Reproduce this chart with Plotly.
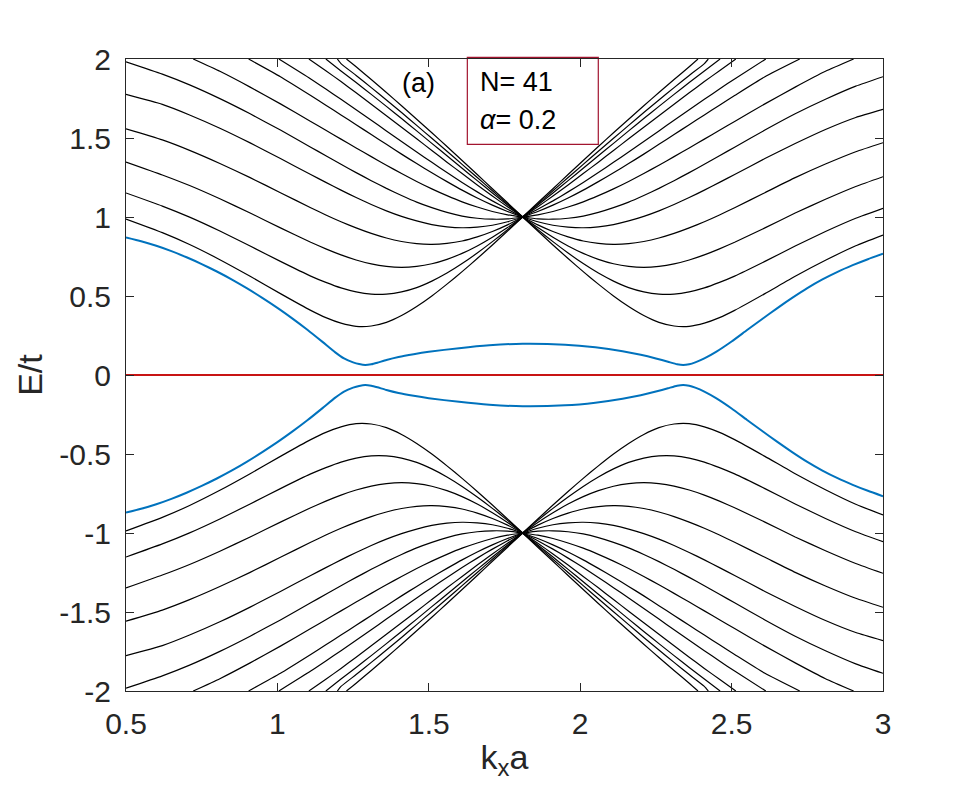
import plotly.graph_objects as go

# ---------------- data ----------------
# sampling positions (k_x a) left and right of the band-collapse point 1.81
X_LEFT = [1.81, 1.76, 1.71, 1.66, 1.61, 1.56, 1.51, 1.46, 1.41, 1.36, 1.31,
          1.26, 1.21, 1.16, 1.11, 1.01, 0.91, 0.81, 0.71, 0.62, 0.50]
X_RIGHT = [1.81, 1.86, 1.91, 1.96, 2.01, 2.06, 2.11, 2.16, 2.21, 2.26, 2.31,
           2.36, 2.41, 2.46, 2.51, 2.61, 2.71, 2.81, 2.91, 3.00]

# upper half, bands with a minimum (left side)
UL_A = [1.000, 0.911, 0.823, 0.737, 0.654, 0.575, 0.500, 0.433, 0.376, 0.333, 0.310, 0.308, 0.328, 0.363, 0.409, 0.515, 0.625, 0.730, 0.826, 0.901, 0.987]
UL_B = [1.000, 0.920, 0.844, 0.772, 0.705, 0.645, 0.594, 0.553, 0.526, 0.512, 0.512, 0.526, 0.551, 0.586, 0.626, 0.719, 0.816, 0.911, 0.999, 1.069, 1.152]
UL_C = [1.000, 0.933, 0.872, 0.817, 0.770, 0.732, 0.704, 0.687, 0.681, 0.687, 0.703, 0.728, 0.760, 0.798, 0.840, 0.931, 1.025, 1.115, 1.199, 1.266, 1.348]
UL_D = [1.000, 0.950, 0.908, 0.874, 0.848, 0.833, 0.827, 0.831, 0.845, 0.867, 0.896, 0.931, 0.970, 1.013, 1.059, 1.154, 1.249, 1.339, 1.422, 1.488, 1.558]
UL_E = [1.000, 0.970, 0.948, 0.936, 0.932, 0.938, 0.952, 0.975, 1.004, 1.039, 1.079, 1.123, 1.170, 1.219, 1.269, 1.370, 1.469, 1.562, 1.646, 1.713, 1.776]
UL_F = [1.000, 0.988, 0.986, 0.992, 1.006, 1.029, 1.059, 1.094, 1.136, 1.181, 1.230, 1.281, 1.334, 1.388, 1.442, 1.550, 1.653, 1.749, 1.836, 1.904, 1.982]

# upper half, bands with a minimum (right side)
UR_A = [1.000, 0.911, 0.823, 0.737, 0.654, 0.575, 0.500, 0.433, 0.376, 0.333, 0.310, 0.308, 0.328, 0.363, 0.409, 0.515, 0.625, 0.726, 0.818, 0.886]
UR_B = [1.000, 0.920, 0.844, 0.772, 0.705, 0.645, 0.594, 0.553, 0.526, 0.512, 0.512, 0.526, 0.551, 0.586, 0.626, 0.719, 0.816, 0.908, 0.992, 1.055]
UR_C = [1.000, 0.933, 0.872, 0.817, 0.770, 0.732, 0.704, 0.687, 0.681, 0.687, 0.703, 0.728, 0.760, 0.798, 0.840, 0.931, 1.025, 1.112, 1.193, 1.255]
UR_D = [1.000, 0.950, 0.908, 0.874, 0.848, 0.833, 0.827, 0.831, 0.845, 0.867, 0.896, 0.931, 0.970, 1.013, 1.059, 1.154, 1.249, 1.335, 1.413, 1.470]
UR_E = [1.000, 0.970, 0.948, 0.936, 0.932, 0.938, 0.952, 0.975, 1.004, 1.039, 1.079, 1.123, 1.170, 1.219, 1.269, 1.370, 1.465, 1.554, 1.630, 1.681]
UR_F = [1.000, 0.988, 0.986, 0.992, 1.006, 1.029, 1.059, 1.094, 1.136, 1.181, 1.230, 1.281, 1.334, 1.388, 1.442, 1.550, 1.653, 1.745, 1.828, 1.888]

# lower half, bands with a maximum (left side)
LL_A = [-1.000, -0.911, -0.823, -0.737, -0.654, -0.575, -0.500, -0.433, -0.376, -0.333, -0.310, -0.308, -0.328, -0.363, -0.409, -0.515, -0.625, -0.730, -0.826, -0.901, -0.987]
LL_B = [-1.000, -0.920, -0.844, -0.772, -0.705, -0.645, -0.594, -0.553, -0.526, -0.512, -0.512, -0.526, -0.551, -0.586, -0.626, -0.719, -0.816, -0.911, -0.999, -1.069, -1.152]
LL_C = [-1.000, -0.933, -0.872, -0.817, -0.770, -0.732, -0.704, -0.687, -0.681, -0.687, -0.703, -0.728, -0.760, -0.798, -0.840, -0.931, -1.025, -1.115, -1.199, -1.266, -1.348]
LL_D = [-1.000, -0.950, -0.908, -0.874, -0.848, -0.833, -0.827, -0.831, -0.845, -0.867, -0.896, -0.931, -0.970, -1.013, -1.059, -1.154, -1.249, -1.339, -1.422, -1.488, -1.558]
LL_E = [-1.000, -0.970, -0.948, -0.936, -0.932, -0.938, -0.952, -0.975, -1.004, -1.039, -1.079, -1.123, -1.170, -1.219, -1.269, -1.370, -1.469, -1.562, -1.646, -1.713, -1.776]
LL_F = [-1.000, -0.988, -0.986, -0.992, -1.006, -1.029, -1.059, -1.094, -1.136, -1.181, -1.230, -1.281, -1.334, -1.388, -1.442, -1.550, -1.653, -1.749, -1.836, -1.904, -1.982]

# lower half, bands with a maximum (right side)
LR_A = [-1.000, -0.911, -0.823, -0.737, -0.654, -0.575, -0.500, -0.433, -0.376, -0.333, -0.310, -0.308, -0.328, -0.363, -0.409, -0.515, -0.625, -0.726, -0.818, -0.886]
LR_B = [-1.000, -0.920, -0.844, -0.772, -0.705, -0.645, -0.594, -0.553, -0.526, -0.512, -0.512, -0.526, -0.551, -0.586, -0.626, -0.719, -0.816, -0.908, -0.992, -1.055]
LR_C = [-1.000, -0.933, -0.872, -0.817, -0.770, -0.732, -0.704, -0.687, -0.681, -0.687, -0.703, -0.728, -0.760, -0.798, -0.840, -0.931, -1.025, -1.112, -1.193, -1.255]
LR_D = [-1.000, -0.950, -0.908, -0.874, -0.848, -0.833, -0.827, -0.831, -0.845, -0.867, -0.896, -0.931, -0.970, -1.013, -1.059, -1.154, -1.249, -1.335, -1.413, -1.470]
LR_E = [-1.000, -0.970, -0.948, -0.936, -0.932, -0.938, -0.952, -0.975, -1.004, -1.039, -1.079, -1.123, -1.170, -1.219, -1.269, -1.370, -1.465, -1.554, -1.630, -1.681]
LR_F = [-1.000, -0.988, -0.986, -0.992, -1.006, -1.029, -1.059, -1.094, -1.136, -1.181, -1.230, -1.281, -1.334, -1.388, -1.442, -1.550, -1.653, -1.745, -1.828, -1.888]

# steep bands leaving the frame (values on the same sampling grid, upper half)
ST_G = [1.000, 1.014, 1.035, 1.063, 1.096, 1.135, 1.178, 1.225, 1.275, 1.328, 1.382, 1.437, 1.493, 1.549, 1.605, 1.716, 1.822, 1.922, 2.000]
ST_E = [1.000, 1.035, 1.075, 1.120, 1.170, 1.224, 1.280, 1.338, 1.398, 1.460, 1.522, 1.584, 1.646, 1.708, 1.769, 1.888, 2.000]
ST_D = [1.000, 1.049, 1.102, 1.159, 1.219, 1.281, 1.346, 1.411, 1.478, 1.545, 1.612, 1.679, 1.745, 1.810, 1.874, 2.000]
ST_C = [1.000, 1.065, 1.133, 1.203, 1.275, 1.347, 1.421, 1.495, 1.568, 1.641, 1.714, 1.786, 1.857, 1.926, 2.000]
ST_B = [1.000, 1.076, 1.152, 1.230, 1.309, 1.388, 1.466, 1.545, 1.623, 1.700, 1.776, 1.851, 1.924, 2.000]
ST_A = [1.000, 1.083, 1.166, 1.250, 1.333, 1.416, 1.498, 1.580, 1.661, 1.740, 1.819, 1.896, 1.971, 2.000]
ST_X = [1.000, 1.090, 1.179, 1.269, 1.358, 1.446, 1.533, 1.619, 1.704, 1.788, 1.870, 1.951, 2.000]
# the same steep bands in the lower half
SN_G = [-1.000, -1.014, -1.035, -1.063, -1.096, -1.135, -1.178, -1.225, -1.275, -1.328, -1.382, -1.437, -1.493, -1.549, -1.605, -1.716, -1.822, -1.922, -2.000]
SN_E = [-1.000, -1.035, -1.075, -1.120, -1.170, -1.224, -1.280, -1.338, -1.398, -1.460, -1.522, -1.584, -1.646, -1.708, -1.769, -1.888, -2.000]
SN_D = [-1.000, -1.049, -1.102, -1.159, -1.219, -1.281, -1.346, -1.411, -1.478, -1.545, -1.612, -1.679, -1.745, -1.810, -1.874, -2.000]
SN_C = [-1.000, -1.065, -1.133, -1.203, -1.275, -1.347, -1.421, -1.495, -1.568, -1.641, -1.714, -1.786, -1.857, -1.926, -2.000]
SN_B = [-1.000, -1.076, -1.152, -1.230, -1.309, -1.388, -1.466, -1.545, -1.623, -1.700, -1.776, -1.851, -1.924, -2.000]
SN_A = [-1.000, -1.083, -1.166, -1.250, -1.333, -1.416, -1.498, -1.580, -1.661, -1.740, -1.819, -1.896, -1.971, -2.000]
SN_X = [-1.000, -1.090, -1.179, -1.269, -1.358, -1.446, -1.533, -1.619, -1.704, -1.788, -1.870, -1.951, -2.000]
# k_x a where each steep band leaves the frame (order G, E, D, C, B, A, X)
EXIT_LEFT = [0.722, 0.905, 1.005, 1.104, 1.160, 1.198, 1.228]
EXIT_RIGHT = [2.903, 2.725, 2.613, 2.514, 2.462, 2.423, 2.389]

# edge-state bands (blue)
BLUE_X = [0.50, 0.55, 0.60, 0.65, 0.70, 0.75, 0.80, 0.85, 0.90, 0.95, 1.00, 1.05, 1.10, 1.15,
          1.19, 1.22, 1.25, 1.27, 1.29, 1.31, 1.33, 1.36, 1.40, 1.45, 1.50, 1.60, 1.70, 1.81,
          1.95, 2.05, 2.14, 2.20, 2.25, 2.29, 2.32, 2.34, 2.36, 2.38, 2.41, 2.45, 2.50, 2.55,
          2.60, 2.65, 2.70, 2.75, 2.80, 2.85, 2.90, 2.95, 3.00]
BLUE_UP = [0.871, 0.847, 0.818, 0.784, 0.745, 0.702, 0.655, 0.604, 0.548, 0.488, 0.425, 0.357, 0.285, 0.208,
           0.145, 0.105, 0.080, 0.069, 0.063, 0.068, 0.078, 0.095, 0.114, 0.132, 0.147, 0.170, 0.188, 0.198,
           0.192, 0.175, 0.150, 0.128, 0.105, 0.084, 0.068, 0.063, 0.068, 0.080, 0.105, 0.148, 0.212, 0.283,
           0.353, 0.422, 0.488, 0.550, 0.605, 0.653, 0.695, 0.733, 0.767]
BLUE_DN = [-0.871, -0.847, -0.818, -0.784, -0.745, -0.702, -0.655, -0.604, -0.548, -0.488, -0.425, -0.357, -0.285, -0.208,
           -0.145, -0.105, -0.080, -0.069, -0.063, -0.068, -0.078, -0.095, -0.114, -0.132, -0.147, -0.170, -0.188, -0.198,
           -0.192, -0.175, -0.150, -0.128, -0.105, -0.084, -0.068, -0.063, -0.068, -0.080, -0.105, -0.148, -0.212, -0.283,
           -0.353, -0.422, -0.488, -0.550, -0.605, -0.653, -0.695, -0.733, -0.767]

ZERO_X = [0.5, 3.0]
ZERO_Y = [0.0, 0.0]

X_TICKS = [0.5, 1, 1.5, 2, 2.5, 3]
X_TICK_TEXT = ["0.5", "1", "1.5", "2", "2.5", "3"]
Y_TICKS = [-2, -1.5, -1, -0.5, 0, 0.5, 1, 1.5, 2]
Y_TICK_TEXT = ["-2", "-1.5", "-1", "-0.5", "0", "0.5", "1", "1.5", "2"]

# ---------------- figure ----------------
BLACK = "#000000"
BLUE = "#0072BD"
RED = "#C81414"
FONT = "Liberation Sans, Arial, Helvetica, sans-serif"
TXT = "#262626"

fig = go.Figure()


def add_line(x, y, color=BLACK, width=1.2):
    fig.add_trace(go.Scatter(x=x, y=y, mode="lines", hoverinfo="skip",
                             line=dict(color=color, width=width, shape="spline", smoothing=0.5),
                             showlegend=False))


for band in [UL_A, UL_B, UL_C, UL_D, UL_E, UL_F, LL_A, LL_B, LL_C, LL_D, LL_E, LL_F]:
    add_line(X_LEFT[:len(band)], band)
for band in [UR_A, UR_B, UR_C, UR_D, UR_E, UR_F, LR_A, LR_B, LR_C, LR_D, LR_E, LR_F]:
    add_line(X_RIGHT[:len(band)], band)

for steep_set in ([ST_G, ST_E, ST_D, ST_C, ST_B, ST_A, ST_X],
                  [SN_G, SN_E, SN_D, SN_C, SN_B, SN_A, SN_X]):
    for band, xl, xr in zip(steep_set, EXIT_LEFT, EXIT_RIGHT):
        n = len(band) - 1
        add_line(X_LEFT[:n] + [xl], band)
        add_line(X_RIGHT[:n] + [xr], band)

add_line(BLUE_X, BLUE_UP, BLUE, 2.0)
add_line(BLUE_X, BLUE_DN, BLUE, 2.0)
fig.add_trace(go.Scatter(x=ZERO_X, y=ZERO_Y, mode="lines", hoverinfo="skip",
                         line=dict(color=RED, width=1.8), showlegend=False))

axis_common = dict(showline=True, linecolor=TXT, linewidth=1, mirror="ticks",
                   ticks="inside", ticklen=8, tickwidth=1, tickcolor=TXT,
                   showgrid=False, zeroline=False,
                   tickfont=dict(family=FONT, size=30, color=TXT))

fig.update_xaxes(range=[0.5, 3], tickvals=X_TICKS, ticktext=X_TICK_TEXT,
                 ticklabelstandoff=6,
                 title=dict(text="k<sub>x</sub>a", font=dict(family=FONT, size=34, color=TXT), standoff=6),
                 **axis_common)
fig.update_yaxes(range=[-2, 2], tickvals=Y_TICKS, ticktext=Y_TICK_TEXT,
                 ticklabelstandoff=8,
                 title=dict(text="E/t", font=dict(family=FONT, size=34, color=TXT), standoff=6),
                 **axis_common)

fig.add_shape(type="rect", xref="paper", yref="paper",
              x0=0.4509, x1=0.6239, y0=0.8650, y1=1.0027,
              line=dict(color="#A2142F", width=1.2), fillcolor="white", layer="below")
fig.add_annotation(x=0.4654, y=0.9641, xref="paper", yref="paper", text="N= 41",
                   showarrow=False, xanchor="left", yanchor="middle",
                   font=dict(family=FONT, size=27, color=BLACK))
fig.add_annotation(x=0.4654, y=0.9035, xref="paper", yref="paper", text="<i>α</i>= 0.2",
                   showarrow=False, xanchor="left", yanchor="middle",
                   font=dict(family=FONT, size=27, color=BLACK))
fig.add_annotation(x=0.3861, y=0.9628, xref="paper", yref="paper", text="(a)",
                   showarrow=False, xanchor="center", yanchor="middle",
                   font=dict(family=FONT, size=27, color=BLACK))

fig.update_layout(width=975, height=792,
                  margin=dict(l=126, r=92, t=59, b=101, autoexpand=False),
                  paper_bgcolor="white", plot_bgcolor="white",
                  font=dict(family=FONT, color=TXT))

fig.write_html("out.html")
